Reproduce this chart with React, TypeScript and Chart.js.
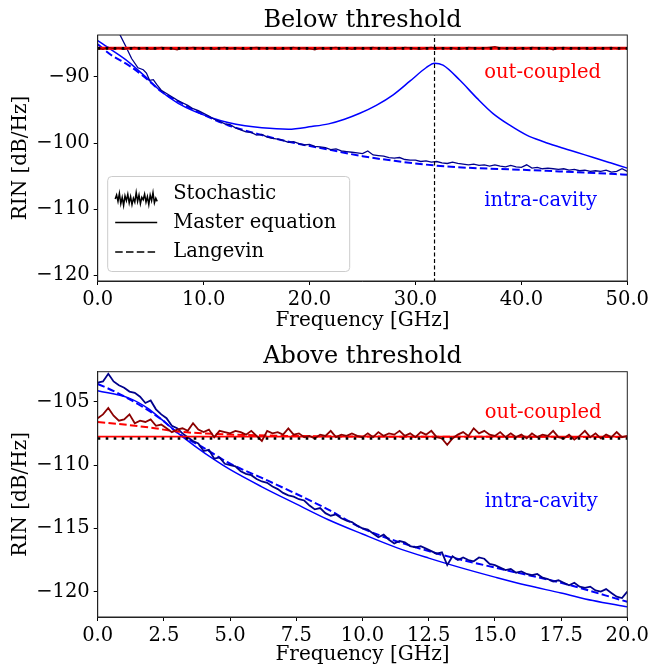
import React, { useEffect, useRef } from 'react';
import { Chart, registerables } from 'chart.js';

Chart.register(...registerables);

const FONT = '"DejaVu Serif", "Liberation Serif", serif';

// ---------------- Top panel: Below threshold ----------------
const TOP_TITLE = 'Below threshold';
const TOP_X_TICKS = [0, 10, 20, 30, 40, 50];
const TOP_Y_TICKS = [-120, -110, -100, -90];
const TOP_RESONANCE_GHZ = 31.8;

const TOP_ME_INTRA_FREQ = [0, 1.3, 2.9, 4.5, 6, 7.6, 9.2, 10.8, 12.3, 13.9, 15.5, 18, 20.2, 21.8, 23.3, 24.75, 26.3, 27.9, 29.5, 31.0, 31.8, 32.6, 34.2, 35.8, 37.3, 38.9, 40.5, 42.1, 43.6, 45.2, 46.8, 48.4, 50];
const TOP_ME_INTRA_RIN = [-84.5, -85.9, -87.7, -89.95, -92.2, -94.0, -95.25, -96.2, -96.9, -97.4, -97.7, -97.9, -97.5, -97.1, -96.4, -95.5, -94.3, -92.7, -90.6, -88.6, -87.9, -88.2, -90.5, -93.2, -95.5, -97.3, -98.8, -99.8, -100.6, -101.4, -102.2, -103.0, -103.8];

const TOP_LG_INTRA_FREQ = [0, 1.3, 2.9, 4.5, 6, 7.6, 9.2, 10.8, 12.3, 15.5, 18.6, 21.8, 25, 28, 31.8, 35, 40, 43.6, 47, 50];
const TOP_LG_INTRA_RIN = [-85.05, -86.7, -88.2, -90.1, -92.2, -93.7, -95.1, -96.3, -97.3, -98.8, -100.0, -101.0, -102.0, -102.7, -103.4, -103.75, -104.05, -104.3, -104.55, -104.8];

const TOP_ST_INTRA_FREQ = [1.8, 2.1, 2.6, 3.2, 3.8, 4.3, 4.6, 4.9, 5.25, 5.6,
  6, 6.5, 7, 7.5, 8, 8.5, 9, 9.5, 10, 10.5, 11, 11.5, 12, 12.5, 13, 13.5, 14, 14.5, 15, 15.5,
  16, 16.5, 17, 17.5, 18, 18.5, 19, 19.5, 20, 20.5, 21, 21.5, 22, 22.5, 23, 23.5, 24, 24.5, 25, 25.5,
  26, 26.5, 27, 27.5, 28, 28.5, 29, 29.5, 30, 30.5, 31, 31.5, 32, 32.5, 33, 33.5, 34, 34.5, 35, 35.5,
  36, 36.5, 37, 37.5, 38, 38.5, 39, 39.5, 40, 40.5, 41, 41.5, 42, 42.5, 43, 43.5, 44, 44.5, 45, 45.5,
  46, 46.5, 47, 47.5, 48, 48.5, 49, 49.5, 50];
const TOP_ST_INTRA_RIN = [-82.0, -83.6, -85.2, -87.2, -88.6, -88.9, -89.4, -90.5, -90.4, -91.2,
  -92.0, -92.5, -93.0, -93.5, -93.9, -94.3, -94.8, -95.1, -95.5, -95.9,
  -96.4, -96.7, -97.1, -97.2, -97.7, -98.0, -98.3, -98.4, -98.8, -98.7,
  -99.1, -99.3, -99.4, -99.6, -99.9, -99.8, -100.1, -100.3, -100.2, -100.5,
  -100.6, -100.7, -101.0, -100.9, -101.2, -101.3, -101.4, -101.5, -101.6, -101.2,
  -101.8, -101.9, -102.0, -102.2, -102.3, -102.2, -102.5, -102.6, -102.6, -102.8,
  -102.7, -102.9, -102.8, -103.0, -103.1, -102.9, -103.1, -103.2, -103.3, -103.2,
  -103.4, -103.3, -103.5, -103.3, -103.5, -103.6, -103.4, -103.6, -103.7, -103.3,
  -103.8, -103.7, -103.9, -103.8, -103.9, -104.0, -103.9, -104.1, -104.0, -104.2,
  -104.1, -104.3, -104.2, -104.3, -104.1, -104.4, -104.3, -103.9, -104.3];

const TOP_OUT_FREQ = [0, 0.5, 1, 1.5, 2, 2.5, 3, 3.5, 4, 4.5, 5, 5.5, 6, 6.5, 7, 7.5, 8, 8.5, 9, 9.5,
  10, 10.5, 11, 11.5, 12, 12.5, 13, 13.5, 14, 14.5, 15, 15.5, 16, 16.5, 17, 17.5, 18, 18.5, 19, 19.5,
  20, 20.5, 21, 21.5, 22, 22.5, 23, 23.5, 24, 24.5, 25, 25.5, 26, 26.5, 27, 27.5, 28, 28.5, 29, 29.5,
  30, 30.5, 31, 31.5, 32, 32.5, 33, 33.5, 34, 34.5, 35, 35.5, 36, 36.5, 37, 37.5, 38, 38.5, 39, 39.5,
  40, 40.5, 41, 41.5, 42, 42.5, 43, 43.5, 44, 44.5, 45, 45.5, 46, 46.5, 47, 47.5, 48, 48.5, 49, 49.5, 50];
const TOP_ST_OUT_RIN = [-85.6, -85.8, -85.5, -85.7, -85.6, -85.8, -85.6, -85.5, -85.7, -85.6,
  -85.8, -85.7, -85.5, -85.6, -85.7, -85.9, -85.6, -85.7, -85.5, -85.6,
  -85.7, -85.6, -85.8, -85.6, -85.5, -85.7, -85.6, -85.7, -85.8, -85.6,
  -85.5, -85.6, -85.7, -85.6, -85.8, -85.7, -85.6, -85.5, -85.7, -85.6,
  -85.7, -85.9, -85.6, -85.7, -85.6, -85.5, -85.7, -85.6, -85.8, -85.6,
  -85.7, -85.6, -85.5, -85.7, -85.6, -85.8, -85.6, -85.7, -85.5, -85.6,
  -85.7, -85.8, -85.6, -85.5, -85.7, -85.6, -85.7, -85.6, -85.8, -85.7,
  -85.5, -85.6, -85.7, -85.6, -85.5, -85.4, -85.6, -85.7, -85.6, -85.8,
  -85.6, -85.7, -85.5, -85.6, -85.7, -85.6, -85.9, -85.6, -85.5, -85.7,
  -85.6, -85.7, -85.6, -85.8, -85.6, -85.7, -85.6, -85.5, -85.7, -85.6, -85.7];
const TOP_FLAT_FREQ = [0, 50];
const TOP_ME_OUT_RIN = [-85.66, -85.66];
const TOP_LG_OUT_RIN = [-85.66, -85.66];
const TOP_SHOT_RIN = [-85.66, -85.66];

// ---------------- Bottom panel: Above threshold ----------------
const BOT_TITLE = 'Above threshold';
const BOT_X_TICKS = [0, 2.5, 5, 7.5, 10, 12.5, 15, 17.5, 20];
const BOT_Y_TICKS = [-120, -115, -110, -105];

const BOT_ME_INTRA_FREQ = [0, 1.16, 1.91, 2.41, 2.98, 3.67, 4.42, 4.99, 6.18, 7.47, 8.69, 10, 11.26, 12.5, 13.7, 15, 16.2, 17.5, 18.7, 20];
const BOT_ME_INTRA_RIN = [-104.13, -104.7, -105.55, -106.4, -107.4, -108.5, -109.6, -110.35, -111.7, -113.05, -114.3, -115.45, -116.5, -117.35, -118.1, -118.85, -119.5, -120.1, -120.7, -121.2];

const BOT_LG_INTRA_FREQ = [0, 0.65, 1.53, 2.41, 2.98, 4.05, 4.92, 6.18, 7.47, 8.69, 10, 12.5, 15, 17.5, 20];
const BOT_LG_INTRA_RIN = [-103.6, -104.2, -105.2, -106.4, -107.4, -108.7, -109.8, -111.0, -112.25, -113.5, -115.0, -116.8, -118.1, -119.3, -120.8];

const BOT_FREQ = [0, 0.2, 0.4, 0.6, 0.8, 1, 1.2, 1.4, 1.6, 1.8, 2, 2.2, 2.4, 2.6, 2.8, 3, 3.2, 3.4, 3.6, 3.8,
  4, 4.2, 4.4, 4.6, 4.8, 5, 5.2, 5.4, 5.6, 5.8, 6, 6.2, 6.4, 6.6, 6.8, 7, 7.2, 7.4, 7.6, 7.8,
  8, 8.2, 8.4, 8.6, 8.8, 9, 9.2, 9.4, 9.6, 9.8, 10, 10.2, 10.4, 10.6, 10.8, 11, 11.2, 11.4, 11.6, 11.8,
  12, 12.2, 12.4, 12.6, 12.8, 13, 13.2, 13.4, 13.6, 13.8, 14, 14.2, 14.4, 14.6, 14.8, 15, 15.2, 15.4, 15.6, 15.8,
  16, 16.2, 16.4, 16.6, 16.8, 17, 17.2, 17.4, 17.6, 17.8, 18, 18.2, 18.4, 18.6, 18.8, 19, 19.2, 19.4, 19.6, 19.8, 20];
const BOT_ST_INTRA_RIN = [-103.5, -103.4, -102.8, -103.4, -103.7, -103.9, -104.2, -104.3, -104.6, -105.1,
  -104.9, -105.6, -106.0, -106.3, -106.9, -107.1, -107.5, -107.8, -108.1, -108.3,
  -108.9, -108.8, -109.5, -109.4, -109.9, -110.0, -110.1, -110.5, -110.7, -110.8,
  -111.1, -111.3, -111.4, -111.7, -111.9, -112.2, -112.4, -112.5, -112.7, -112.8,
  -113.2, -113.5, -113.4, -113.8, -114.0, -113.9, -114.2, -114.4, -114.5, -114.8,
  -115.0, -115.1, -115.4, -115.7, -115.5, -115.9, -116.2, -116.0, -116.1, -116.4,
  -116.5, -116.4, -116.6, -116.8, -117.0, -116.9, -117.9, -117.2, -117.5, -117.3,
  -117.5, -117.6, -117.3, -117.4, -117.8, -117.9, -118.1, -118.3, -118.2, -118.5,
  -118.4, -118.6, -118.7, -118.6, -118.9, -119.0, -119.2, -119.1, -119.3, -119.5,
  -119.3, -119.6, -119.7, -119.6, -119.9, -120.0, -119.8, -120.1, -120.4, -120.5, -120.0];
const BOT_ST_OUT_RIN = [-106.3, -106.0, -105.5, -106.1, -106.5, -106.4, -106.0, -106.7, -106.5, -106.6,
  -106.4, -106.9, -106.8, -107.1, -107.4, -107.2, -107.1, -107.3, -106.7, -107.2,
  -107.4, -107.2, -107.8, -107.3, -107.4, -107.5, -107.3, -107.4, -107.6, -107.3,
  -107.7, -108.1, -107.3, -107.5, -107.4, -107.6, -107.1, -107.6, -107.5, -107.8,
  -107.7, -107.9, -107.6, -107.7, -107.3, -107.8, -107.6, -107.7, -107.5, -107.7,
  -107.8, -107.5, -107.8, -107.4, -107.7, -107.5, -107.6, -107.3, -107.7, -107.5,
  -107.8, -107.4, -107.6, -107.3, -107.8, -107.9, -108.4, -107.9, -107.6, -107.4,
  -107.7, -107.1, -107.5, -107.3, -107.6, -107.7, -107.4, -107.8, -107.5, -107.8,
  -107.6, -107.9, -107.5, -107.8, -107.6, -107.7, -107.3, -107.8, -107.9, -107.6,
  -108.0, -107.7, -107.3, -107.8, -107.5, -107.9, -107.6, -107.8, -107.4, -107.8, -107.7];
const BOT_LG_OUT_FREQ = [0, 1, 2, 3, 4, 6, 10, 20];
const BOT_LG_OUT_RIN = [-106.6, -106.8, -107.05, -107.35, -107.5, -107.65, -107.75, -107.78];
const BOT_FLAT_FREQ = [0, 20];
const BOT_ME_OUT_RIN = [-107.76, -107.76];
const BOT_SHOT_RIN = [-107.9, -107.9];

// Legend entries (top panel)
const LEGEND_LABELS = ['Stochastic', 'Master equation', 'Langevin'];
const LEGEND_NOISE = [0, -5, 3, -7, 6, -2, 8, -4, 2, -6, 5, -3, 7, -1, 4, -8, 3, -5, 6, -2, 1, -6, 4, -3, 7, -5, 2, -8, 5, -1, 3];

const BLUE = '#0000ff';
const NAVY = '#00008b';
const RED = '#ff0000';
const DARKRED = '#8b0000';

const pts = (xs: number[], ys: number[]) => xs.map((x, i) => ({ x, y: ys[i] }));
const fmtY = (v: number) => (v < 0 ? '\u2212' + Math.abs(v) : String(v));

const framePlugin = {
  id: 'frame',
  afterDatasetsDraw(chart: any) {
    const { ctx, chartArea: a } = chart;
    ctx.save();
    ctx.strokeStyle = '#222';
    ctx.lineWidth = 1;
    ctx.strokeRect(a.left, a.top, a.right - a.left, a.bottom - a.top);
    ctx.restore();
  },
};

const textPlugin = {
  id: 'panelText',
  afterDatasetsDraw(chart: any, _args: any, opts: any) {
    const { ctx, chartArea: a } = chart;
    const xs = chart.scales.x;
    const ys = chart.scales.y;
    ctx.save();
    ctx.font = `19.5px ${FONT}`;
    ctx.textAlign = 'left';
    ctx.textBaseline = 'alphabetic';
    (opts.items || []).forEach((it: any) => {
      ctx.fillStyle = it.color;
      ctx.fillText(it.text, xs.getPixelForValue(it.x), ys.getPixelForValue(it.y));
    });
    if (opts.title) {
      ctx.fillStyle = '#000';
      ctx.font = `24px ${FONT}`;
      ctx.textAlign = 'center';
      ctx.textBaseline = 'middle';
      ctx.fillText(opts.title, (a.left + a.right) / 2, opts.titleY);
    }
    ctx.restore();
  },
};

const legendPlugin = {
  id: 'rinLegend',
  afterDraw(chart: any, _args: any, opts: any) {
    if (!opts.show) return;
    const { ctx, chartArea: a } = chart;
    const w = 242, h = 95;
    const x0 = a.left + 9.5;
    const y0 = a.bottom - 10 - h;
    ctx.save();
    ctx.beginPath();
    if ((ctx as any).roundRect) (ctx as any).roundRect(x0 + 0.5, y0 + 0.5, w, h, 4);
    else ctx.rect(x0 + 0.5, y0 + 0.5, w, h);
    ctx.fillStyle = 'rgba(255,255,255,0.85)';
    ctx.fill();
    ctx.strokeStyle = '#cccccc';
    ctx.lineWidth = 1;
    ctx.stroke();

    const ix0 = x0 + 8, ix1 = x0 + 50;
    ctx.strokeStyle = '#000';
    ctx.lineWidth = 1.5;
    ctx.beginPath();
    LEGEND_NOISE.forEach((d, i) => {
      const px = ix0 + (i * (ix1 - ix0)) / (LEGEND_NOISE.length - 1);
      const py = y0 + 23 + d * 0.8;
      if (i === 0) ctx.moveTo(px, py); else ctx.lineTo(px, py);
    });
    ctx.stroke();
    ctx.beginPath();
    ctx.moveTo(ix0, y0 + 46.5);
    ctx.lineTo(ix1, y0 + 46.5);
    ctx.stroke();
    ctx.setLineDash([7.5, 3.3]);
    ctx.beginPath();
    ctx.moveTo(ix0, y0 + 76);
    ctx.lineTo(ix1, y0 + 76);
    ctx.stroke();
    ctx.setLineDash([]);

    ctx.fillStyle = '#000';
    ctx.font = `19.5px ${FONT}`;
    ctx.textAlign = 'left';
    ctx.textBaseline = 'middle';
    const rows = [17.5, 46.5, 76];
    LEGEND_LABELS.forEach((t, i) => ctx.fillText(t, x0 + 66, y0 + rows[i]));
    ctx.restore();
  },
};

function line(data: any[], color: string, width: number, dash: number[] = [], smooth = false) {
  return {
    data,
    borderColor: color,
    backgroundColor: color,
    borderWidth: width,
    borderDash: dash,
    pointRadius: 0,
    fill: false,
    tension: 0,
    cubicInterpolationMode: smooth ? 'monotone' : 'default',
  };
}

function makeOptions(p: {
  title: string; titleY: number; padTop: number;
  xMin: number; xMax: number; xTicks: number[];
  yMin: number; yMax: number; yTicks: number[];
  padBottom: number; xAxisH: number;
  items: any[]; legend: boolean;
}) {
  const tickFont = { family: FONT, size: 19.5 };
  const labelFont = { family: FONT, size: 20 };
  return {
    responsive: false,
    animation: false,
    layout: { padding: { left: 0, right: 24.3, top: p.padTop, bottom: p.padBottom } },
    plugins: {
      legend: { display: false },
      tooltip: { enabled: false },
      title: { display: false },
      panelText: { items: p.items, title: p.title, titleY: p.titleY },
      rinLegend: { show: p.legend },
    },
    scales: {
      x: {
        type: 'linear',
        min: p.xMin,
        max: p.xMax,
        afterBuildTicks: (s: any) => { s.ticks = p.xTicks.map((v) => ({ value: v })); },
        afterFit: (s: any) => { s.height = p.xAxisH; },
        ticks: {
          color: '#000', font: tickFont, padding: 3, maxRotation: 0, autoSkip: false,
          callback: (v: any) => Number(v).toFixed(1),
        },
        grid: { drawOnChartArea: false, drawTicks: true, tickLength: 4, tickColor: '#000' },
        border: { display: true, color: '#222' },
        title: { display: true, text: 'Frequency [GHz]', color: '#000', font: labelFont, padding: { top: 0, bottom: 0 } },
      },
      y: {
        type: 'linear',
        min: p.yMin,
        max: p.yMax,
        afterBuildTicks: (s: any) => { s.ticks = p.yTicks.map((v) => ({ value: v })); },
        afterFit: (s: any) => { s.width = 97.7; },
        ticks: { color: '#000', font: tickFont, padding: 4, autoSkip: false, callback: (v: any) => fmtY(Number(v)) },
        grid: { drawOnChartArea: false, drawTicks: true, tickLength: 4, tickColor: '#000' },
        border: { display: true, color: '#222' },
        title: { display: true, text: 'RIN [dB/Hz]', color: '#000', font: labelFont, padding: { top: 9, bottom: 0 } },
      },
    },
  };
}

export default function App() {
  const topRef = useRef<HTMLCanvasElement>(null);
  const botRef = useRef<HTMLCanvasElement>(null);

  useEffect(() => {
    Chart.defaults.font.family = FONT;
    Chart.defaults.color = '#000';

    const topDatasets = [
      line(pts([TOP_RESONANCE_GHZ, TOP_RESONANCE_GHZ], [-130, -80]), '#000', 1.2, [4, 2.5]),
      line(pts(TOP_FLAT_FREQ, TOP_SHOT_RIN), '#000', 2.6, [2.6, 5.4]),
      line(pts(TOP_OUT_FREQ, TOP_ST_OUT_RIN), DARKRED, 1.2),
      line(pts(TOP_FLAT_FREQ, TOP_LG_OUT_RIN), RED, 2, [7.5, 3.3]),
      line(pts(TOP_FLAT_FREQ, TOP_ME_OUT_RIN), RED, 3),
      line(pts(TOP_ST_INTRA_FREQ, TOP_ST_INTRA_RIN), NAVY, 1.3),
      line(pts(TOP_LG_INTRA_FREQ, TOP_LG_INTRA_RIN), BLUE, 2, [7.5, 3.3], true),
      line(pts(TOP_ME_INTRA_FREQ, TOP_ME_INTRA_RIN), BLUE, 1.5, [], true),
    ];
    const botDatasets = [
      line(pts(BOT_FLAT_FREQ, BOT_SHOT_RIN), '#000', 2.6, [2.6, 5.4]),
      line(pts(BOT_FREQ, BOT_ST_OUT_RIN), DARKRED, 1.8),
      line(pts(BOT_LG_OUT_FREQ, BOT_LG_OUT_RIN), RED, 2, [7.5, 3.3], true),
      line(pts(BOT_FLAT_FREQ, BOT_ME_OUT_RIN), RED, 1.6),
      line(pts(BOT_FREQ, BOT_ST_INTRA_RIN), NAVY, 1.8),
      line(pts(BOT_LG_INTRA_FREQ, BOT_LG_INTRA_RIN), BLUE, 2, [7.5, 3.3], true),
      line(pts(BOT_ME_INTRA_FREQ, BOT_ME_INTRA_RIN), BLUE, 1.5, [], true),
    ];

    const top = new Chart(topRef.current as HTMLCanvasElement, {
      type: 'line',
      data: { datasets: topDatasets as any },
      options: makeOptions({
        title: TOP_TITLE, titleY: 21, padTop: 35,
        xMin: 0, xMax: 50, xTicks: TOP_X_TICKS,
        yMin: -120.9, yMax: -83.64, yTicks: TOP_Y_TICKS,
        padBottom: 2, xAxisH: 52,
        items: [
          { text: 'out-coupled', x: 36.5, y: -90.1, color: RED },
          { text: 'intra-cavity', x: 36.5, y: -109.5, color: BLUE },
        ],
        legend: true,
      }) as any,
      plugins: [framePlugin, textPlugin, legendPlugin],
    });

    const bot = new Chart(botRef.current as HTMLCanvasElement, {
      type: 'line',
      data: { datasets: botDatasets as any },
      options: makeOptions({
        title: BOT_TITLE, titleY: 22, padTop: 36.7,
        xMin: 0, xMax: 20, xTicks: BOT_X_TICKS,
        yMin: -122.0, yMax: -102.63, yTicks: BOT_Y_TICKS,
        padBottom: 0, xAxisH: 50,
        items: [
          { text: 'out-coupled', x: 14.62, y: -106.3, color: RED },
          { text: 'intra-cavity', x: 14.62, y: -113.3, color: BLUE },
        ],
        legend: false,
      }) as any,
      plugins: [framePlugin, textPlugin, legendPlugin],
    });

    return () => {
      top.destroy();
      bot.destroy();
    };
  }, []);

  return (
    <div style={{ position: 'absolute', left: 0, top: 0, width: 652, height: 667, background: '#fff' }}>
      <canvas ref={topRef} width={652} height={335} style={{ display: 'block', width: 652, height: 335 }} />
      <canvas ref={botRef} width={652} height={332} style={{ display: 'block', width: 652, height: 332 }} />
    </div>
  );
}
